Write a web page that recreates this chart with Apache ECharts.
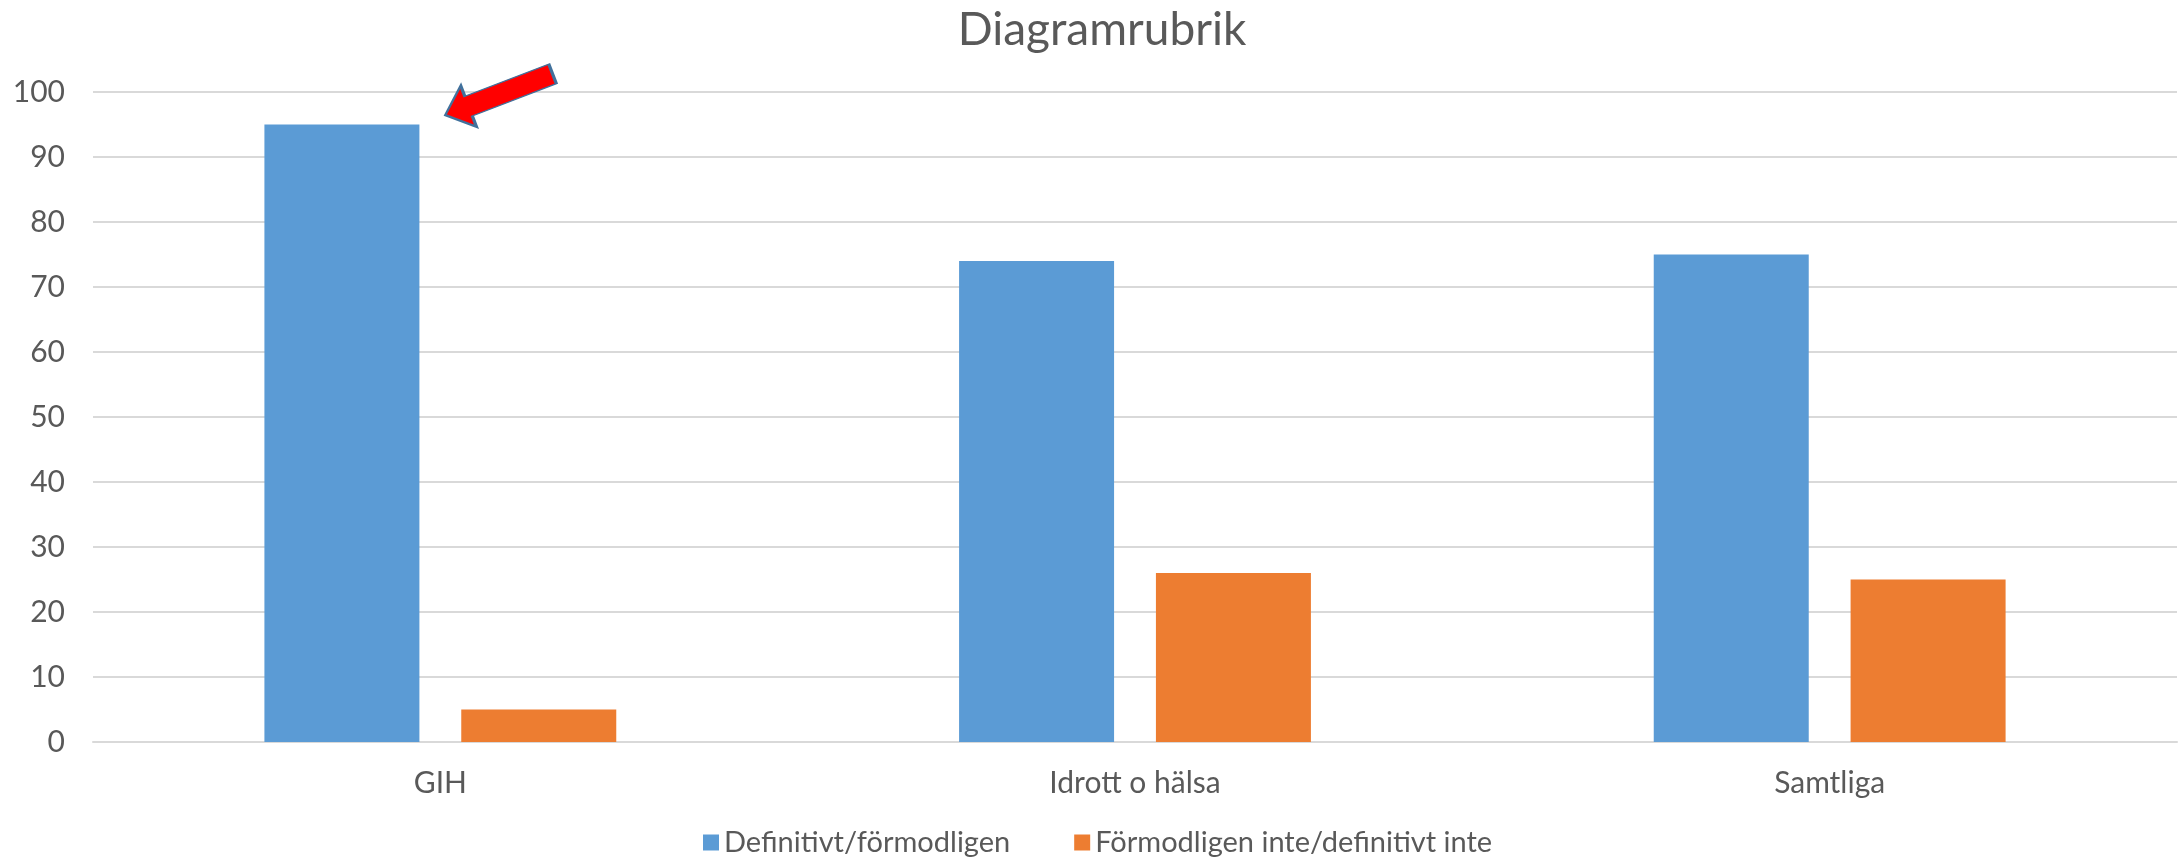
<!DOCTYPE html>
<html>
<head>
<meta charset="utf-8">
<script src="https://cdn.jsdelivr.net/npm/echarts@6/dist/echarts.min.js"></script>
<style>
  html, body { margin: 0; padding: 0; background: #fff; }
  #chart { width: 2183px; height: 862px; }
</style>
</head>
<body>
<div id="chart"></div>
<script>
// Data
const categories = ['GIH', 'Idrott o hälsa', 'Samtliga'];
const seriesNames = ['Definitivt/förmodligen', 'Förmodligen inte/definitivt inte'];
const definitivtValues = [95, 74, 75];
const inteValues = [5, 26, 25];
const yTicks = { min: 0, max: 100, interval: 10 };

const textColor = '#595959';
const gridColor = '#d9d9d9';
const fontFamily = 'Lato, "Open Sans", sans-serif';

// Red arrow pointing at the GIH bar (tip on the left, rotated later)
const arrowPath = 'path://M0,22 L25,0 L25,11.5 L115,11.5 L115,32.5 L25,32.5 L25,44 Z';

const chart = echarts.init(document.getElementById('chart'));

chart.setOption({
    backgroundColor: '#ffffff',
    animation: false,
    textStyle: { fontFamily: fontFamily, color: textColor },
    title: {
        text: 'Diagramrubrik',
        left: 1097,
        textAlign: 'center',
        top: 2,
        textStyle: { fontFamily: fontFamily, fontSize: 46, fontWeight: 'normal', color: textColor }
    },
    legend: {
        data: seriesNames,
        bottom: 0,
        left: 698,
        itemWidth: 16,
        itemHeight: 16,
        itemGap: 64,
        icon: 'rect',
        textStyle: { fontFamily: fontFamily, fontSize: 29, color: textColor }
    },
    grid: { left: 93, right: 6, top: 92, bottom: 120 },
    xAxis: {
        type: 'category',
        data: categories,
        axisLine: { lineStyle: { color: gridColor, width: 2 } },
        axisTick: { show: false },
        axisLabel: { fontFamily: fontFamily, fontSize: 30, color: textColor, margin: 26 }
    },
    yAxis: {
        type: 'value',
        min: yTicks.min,
        max: yTicks.max,
        interval: yTicks.interval,
        axisLine: { show: false },
        axisTick: { show: false },
        splitLine: { lineStyle: { color: gridColor, width: 2 } },
        axisLabel: { fontFamily: fontFamily, fontSize: 30, color: textColor, margin: 28 }
    },
    series: [
        {
            name: seriesNames[0],
            type: 'bar',
            data: definitivtValues,
            barWidth: 155,
            barGap: '27%',
            itemStyle: { color: '#5B9BD5' },
            markPoint: {
                silent: true,
                data: [{ coord: [categories[0], definitivtValues[0]] }],
                symbol: arrowPath,
                symbolSize: [115, 44],
                symbolRotate: 21,
                symbolOffset: [157, -30],
                symbolKeepAspect: false,
                label: { show: false },
                itemStyle: { color: '#FF0000', borderColor: '#41719C', borderWidth: 2 }
            }
        },
        {
            name: seriesNames[1],
            type: 'bar',
            data: inteValues,
            barWidth: 155,
            itemStyle: { color: '#ED7D31' }
        }
    ]
});

window.addEventListener('resize', () => chart.resize());
</script>
</body>
</html>
